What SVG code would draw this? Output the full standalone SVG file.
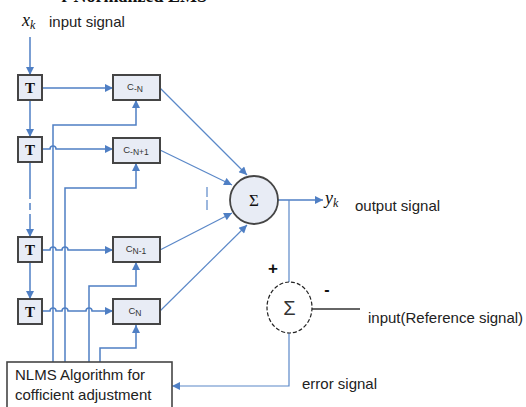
<svg xmlns="http://www.w3.org/2000/svg" width="526" height="407" viewBox="0 0 526 407">
<defs>
<style>
.ln{fill:none;stroke:#4f7fc4;stroke-width:1.5}
.lt{fill:none;stroke:#5b88c8;stroke-width:1.2}
.box{fill:#e8ecf5;stroke:#454545;stroke-width:2}
.T{font-family:"Liberation Serif",serif;font-weight:bold;font-size:15px;fill:#111;text-anchor:middle}
.c{font-family:"Liberation Sans",sans-serif;font-size:9.5px;fill:#333;text-anchor:middle}
.lab{font-family:"Liberation Sans",sans-serif;font-size:15px;fill:#222}
.it{font-family:"Liberation Serif",serif;font-style:italic;fill:#111}
</style>
<marker id="ah" viewBox="0 0 10 10" refX="10" refY="5" markerWidth="10" markerHeight="8" markerUnits="userSpaceOnUse" orient="auto">
<path d="M0,0 L10,5 L0,10 z" fill="#4f7fc4"/>
</marker>
</defs>
<rect width="526" height="407" fill="#fff"/>
<text x="207" y="1.5" text-anchor="end" font-family="Liberation Serif,serif" font-weight="bold" font-size="18" fill="#111">r Normalized LMS</text>

<g id="connectors">
<path class="ln" d="M30,37 V75" marker-end="url(#ah)"/>
<path class="ln" d="M30,100 V137" marker-end="url(#ah)"/>
<path class="ln" d="M30,162 V199"/>
<path class="ln" d="M30,203 V210"/>
<path class="ln" d="M30,214 V237" marker-end="url(#ah)"/>
<path class="ln" d="M30,262 V299" marker-end="url(#ah)"/>
<path class="ln" d="M42,88 H113" marker-end="url(#ah)"/>
<path class="ln" d="M42,149 H50 a3,3 0 0 1 6,0 H113" marker-end="url(#ah)"/>
<path class="ln" d="M42,250 H50 a3,3 0 0 1 6,0 H62 a3,3 0 0 1 6,0 H113" marker-end="url(#ah)"/>
<path class="ln" d="M42,311 H50 a3,3 0 0 1 6,0 H62 a3,3 0 0 1 6,0 H86 a3,3 0 0 1 6,0 H113" marker-end="url(#ah)"/>
<path class="ln" d="M53,362 V125 H136 V100" marker-end="url(#ah)"/>
<path class="ln" d="M65,362 V188 H136 V163" marker-end="url(#ah)"/>
<path class="ln" d="M89,362 V286 H136 V262" marker-end="url(#ah)"/>
<path class="ln" d="M100,362 V348 H136 V325" marker-end="url(#ah)"/>
<path class="lt" d="M160,88 L247,175" marker-end="url(#ah)"/>
<path class="lt" d="M160,150 L232,185" marker-end="url(#ah)"/>
<path class="lt" d="M160,250 L232,213" marker-end="url(#ah)"/>
<path class="lt" d="M160,311 L247,225" marker-end="url(#ah)"/>
<path class="lt" d="M207,187 V197 M207,200 V210"/>
<path class="ln" d="M278,200 H323" marker-end="url(#ah)"/>
<path class="lt" d="M289,200 V282"/>
<path class="lt" d="M289,333 V386 H172" marker-end="url(#ah)"/>
<path d="M312,309 H360" fill="none" stroke="#333" stroke-width="1.3"/>
</g>

<g id="T1"><rect class="box" x="18" y="75" width="24" height="25"/><text class="T" x="30" y="93">T</text></g>
<g id="T2"><rect class="box" x="18" y="137" width="24" height="25"/><text class="T" x="30" y="155">T</text></g>
<g id="T3"><rect class="box" x="18" y="237" width="24" height="25"/><text class="T" x="30" y="255">T</text></g>
<g id="T4"><rect class="box" x="18" y="299" width="24" height="25"/><text class="T" x="30" y="317">T</text></g>

<g id="C1"><rect class="box" x="113" y="75" width="47" height="25"/><text class="c" x="135" y="90">C<tspan font-size="8.5" dy="2">-N</tspan></text></g>
<g id="C2"><rect class="box" x="113" y="138" width="47" height="25"/><text class="c" x="136" y="153">C<tspan font-size="8.5" dy="2">-N+1</tspan></text></g>
<g id="C3"><rect class="box" x="113" y="237" width="47" height="25"/><text class="c" x="136" y="252">C<tspan font-size="8.5" dy="2">N-1</tspan></text></g>
<g id="C4"><rect class="box" x="113" y="299" width="47" height="25"/><text class="c" x="135" y="314">C<tspan font-size="8.5" dy="2">N</tspan></text></g>

<g id="sum"><circle cx="254" cy="200" r="24" fill="#e8ecf5" stroke="#454545" stroke-width="1.8"/><text x="254" y="206" text-anchor="middle" font-family="Liberation Serif,serif" font-size="17" fill="#111">Σ</text></g>

<g id="errsum"><ellipse cx="289.5" cy="307.5" rx="22.5" ry="25.5" fill="#fff" stroke="#222" stroke-width="1.2" stroke-dasharray="4 2"/><text x="289.5" y="315" text-anchor="middle" font-family="Liberation Sans,sans-serif" font-size="20" fill="#333">Σ</text></g>

<g id="nlms"><rect x="7" y="362" width="165" height="60" fill="#fff" stroke="#454545" stroke-width="1.6"/>
<text class="lab" x="15" y="380">NLMS Algorithm for</text>
<text class="lab" x="15" y="400">cofficient adjustment</text></g>

<g id="labels">
<text class="it" x="22" y="26" font-size="18">x<tspan font-size="12" dy="3">k</tspan></text>
<text class="lab" x="49" y="27">input signal</text>
<text class="it" x="325" y="204" font-size="18">y<tspan font-size="12" dy="3">k</tspan></text>
<text class="lab" x="355" y="211">output signal</text>
<text x="273" y="274" text-anchor="middle" font-family="Liberation Sans,sans-serif" font-weight="bold" font-size="17" fill="#111">+</text>
<text x="327" y="295" text-anchor="middle" font-family="Liberation Sans,sans-serif" font-weight="bold" font-size="16" fill="#111">-</text>
<text class="lab" x="368" y="323">input(Reference signal)</text>
<text class="lab" x="302" y="389">error signal</text>
</g>
</svg>
